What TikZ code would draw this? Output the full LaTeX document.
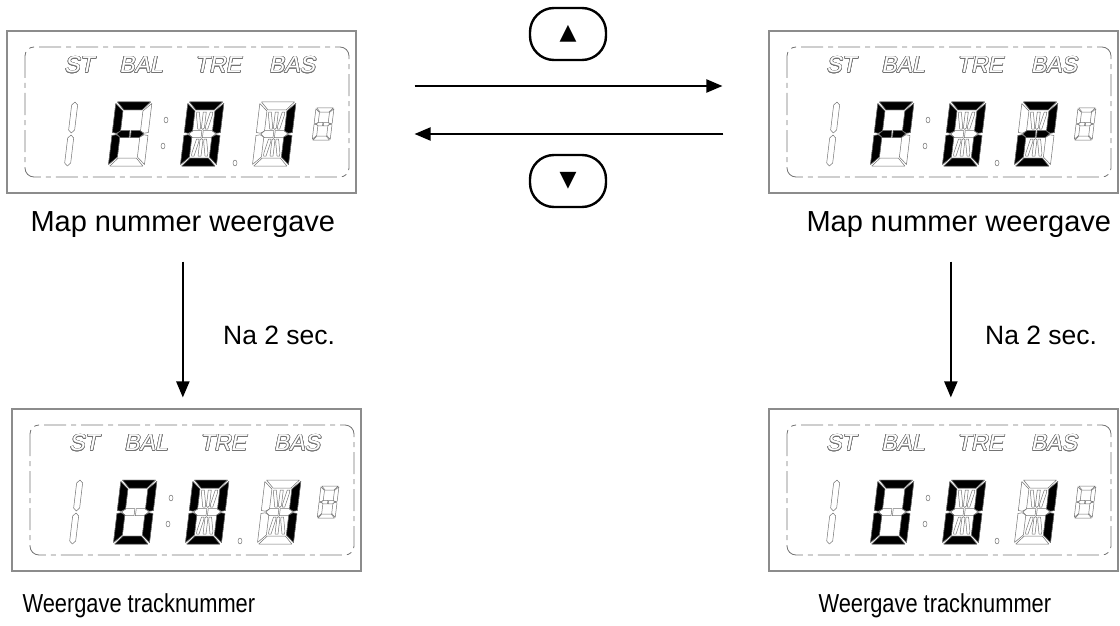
\documentclass[tikz,border=0pt]{standalone}
\usepackage{fontspec}
\setmainfont{Liberation Sans}
\newfontfamily\symfont{DejaVu Sans}
\newfontfamily\lcdfont[FakeSlant=0.2]{Liberation Sans}
\newfontfamily\narrowfont[FakeStretch=0.84]{Liberation Sans}
\usepackage{contour}
\contourlength{0.6pt}
\usetikzlibrary{arrows.meta,positioning}

% segment outlines of one digit cell (36 x 64, y runs downwards)
\def\segA{(1.5,0) -- (34.5,0) -- (27,8) -- (9,8) -- cycle}
\def\segB{(36,1.5) -- (36,30.5) -- (32,31.2) -- (28,29) -- (28,9) -- cycle}
\def\segC{(36,33.5) -- (36,62.5) -- (28,55) -- (28,35) -- (32,32.8) -- cycle}
\def\segD{(1.5,64) -- (34.5,64) -- (27,56) -- (9,56) -- cycle}
\def\segE{(0,33.5) -- (0,62.5) -- (8,55) -- (8,35) -- (4,32.8) -- cycle}
\def\segF{(0,1.5) -- (0,30.5) -- (4,31.2) -- (8,29) -- (8,9) -- cycle}
\def\segG{(4.5,32) -- (8.5,28.5) -- (17.3,28.5) -- (17.3,35.5) -- (8.5,35.5) -- cycle}
\def\segH{(31.5,32) -- (27.5,28.5) -- (18.7,28.5) -- (18.7,35.5) -- (27.5,35.5) -- cycle}
\def\segI{(16.5,10) -- (19.5,10) -- (19.5,26) -- (18,27.5) -- (16.5,26) -- cycle}
\def\segJ{(16.5,38) -- (18,36.5) -- (19.5,38) -- (19.5,54) -- (16.5,54) -- cycle}
\def\segK{(10,10) -- (12.5,10) -- (15.5,24) -- (15.5,27) -- (13,27) -- (10,13) -- cycle}
\def\segL{(26,10) -- (23.5,10) -- (20.5,24) -- (20.5,27) -- (23,27) -- (26,13) -- cycle}
\def\segM{(10,54) -- (12.5,54) -- (15.5,40) -- (15.5,37) -- (13,37) -- (10,51) -- cycle}
\def\segN{(26,54) -- (23.5,54) -- (20.5,40) -- (20.5,37) -- (23,37) -- (26,51) -- cycle}
\def\segP{(1,3) -- (4,0) -- (7,3) -- (7,28) -- (4,31) -- (1,28) -- cycle}
\def\segQ{(1,36) -- (4,33) -- (7,36) -- (7,61) -- (4,64) -- (1,61) -- cycle}
\newcommand\segpath[1]{\csname seg#1\endcsname}

% a cell with all segments dark
\newcommand\lcdcell[3][1]{%
  \begin{scope}[shift={#2}, xslant=.12, scale=#1]
    \foreach \s in {#3} \draw[segoff] \segpath{\s};
  \end{scope}}
% a cell with some segments lit
\newcommand\lcddigit[3][A,B,C,D,E,F,G,H]{%
  \begin{scope}[shift={#2}, xslant=.12]
    \foreach \s in {#1} \draw[segoff] \segpath{\s};
    \foreach \s in {#3} \draw[segon] \segpath{\s};
  \end{scope}}

% one display: name, offset, lit segments of the three big digits
\newcommand\lcdpanel[5]{%
  \begin{scope}[shift={#2}]
    \node[lcdbox] (#1) at (181.5,112) {};
    \draw[lcdframe] (25,47) rectangle (349,177);
    \foreach \txt/\xx in {ST/79, BAL/141, TRE/218, BAS/292}
      \node[lcdlbl] at (\xx,65) {\contour{black!55}{\txt}};
    \lcdcell{(71,102)}{P,Q}
    \lcddigit{(116,102)}{#3}
    \draw[segoff] (166,120) ellipse (2 and 3) (163,146) ellipse (2 and 3);
    \lcddigit[A,B,C,D,E,F,G,H,I,J,K,L,M,N]{(188,102)}{#4}
    \draw[segoff] (235,163) ellipse (2 and 3);
    \lcddigit[A,B,C,D,E,F,G,H,I,J,K,L,M,N]{(260,102)}{#5}
    \lcdcell[.5]{(316,108)}{A,B,C,D,E,F,G,H}
  \end{scope}}

\begin{document}
\begin{tikzpicture}[
  x=1pt, y=-1pt,
  font=\fontsize{29}{34}\selectfont,
  lcdbox/.style={draw=black!45, line width=1.1pt, minimum width=349pt,
                 minimum height=162pt, inner sep=0pt},
  lcdframe/.style={draw=black!55, line width=.8pt, rounded corners=9pt,
                   dash pattern=on 22pt off 5pt on 5pt off 5pt},
  lcdlbl/.style={font=\lcdfont\fontsize{23}{23}\selectfont, text=white},
  segoff/.style={draw=black!55, line width=.5pt, fill=white, line join=round},
  segon/.style={segoff, fill=black},
  caption/.style={anchor=west},
  small/.style={anchor=west, font=\narrowfont\fontsize{26}{30}\selectfont},
  lbl/.style={font=\fontsize{26.5}{30}\selectfont},
  btn/.style={draw, line width=2.4pt, rounded corners=24pt, minimum width=76pt,
              minimum height=52pt, inner sep=0pt, font=\symfont\fontsize{22}{22}\selectfont},
  arr/.style={-{Triangle[length=16pt, width=13pt]}, line width=2pt}
]
\useasboundingbox (0,0) rectangle (1120,626);

\lcdpanel{mapL}{(0,0)}{A,F,E,G,H}{A,B,C,D,E,F}{B,C}
\lcdpanel{mapR}{(762,0)}{A,B,F,G,H,E}{A,B,C,D,E,F}{A,B,G,H,E,D}
\lcdpanel{trackL}{(5,378)}{A,B,C,D,E,F}{A,B,C,D,E,F}{B,C}
\lcdpanel{trackR}{(762,378)}{A,B,C,D,E,F}{A,B,C,D,E,F}{B,C}

\node[caption] (mapLtxt)   at (27,225)  {Map nummer weergave};
\node[caption] (mapRtxt)   at (803,225) {Map nummer weergave};
\node[small]   (trackLtxt) at (19,606)  {Weergave tracknummer};
\node[small]   (trackRtxt) at (815,606) {Weergave tracknummer};

\node[btn] (up)   at (568,34)  {▲};
\node[btn] (down) at (568,181) {▼};

\draw[arr, shorten <=58pt, shorten >=46pt] ([yshift=26pt]mapL.east) -- ([yshift=26pt]mapR.west);
\draw[arr, shorten <=45pt, shorten >=58pt] ([yshift=-22pt]mapR.west) -- ([yshift=-22pt]mapL.east);

\draw[arr, shorten <=20pt, shorten >=11pt] (mapLtxt.south) -- (mapLtxt.south |- trackL.north)
  node[lbl, right=36pt, pos=.56] {Na 2 sec.};
\draw[arr, shorten <=20pt, shorten >=11pt] ([xshift=-8pt]mapRtxt.south) -- ([xshift=-8pt]mapRtxt.south |- trackR.north)
  node[lbl, right=30pt, pos=.56] {Na 2 sec.};
\end{tikzpicture}
\end{document}
